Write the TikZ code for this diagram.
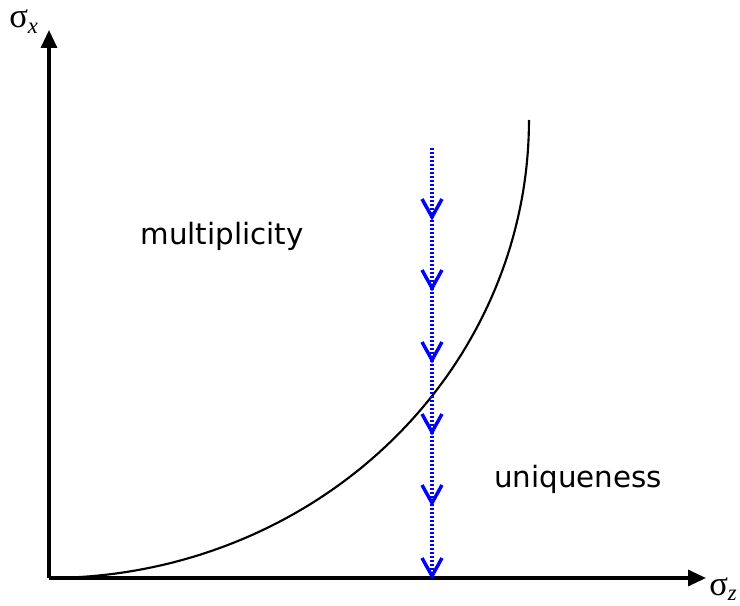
\documentclass[tikz,border=0pt]{standalone}
\usepackage{fontspec}
\setmainfont{DejaVu Sans}
\newfontfamily\timesf{Liberation Serif}
\usetikzlibrary{arrows.meta}
\begin{document}
\begin{tikzpicture}[x=0.75pt,y=-0.75pt,
  axis/.style={line width=2.4pt,-{Triangle[length=13.5pt,width=12pt]}},
  curve/.style={line width=1.6pt},
  flow/.style={blue,line width=2.3pt,dash pattern=on 1.3pt off 1.7pt},
  vhead/.style={blue,line width=2.6pt,line join=miter},
  lbl/.style={inner sep=0pt,font=\fontsize{22}{26}\selectfont},
  axlbl/.style={inner sep=0pt,font=\timesf\fontsize{26}{28}\selectfont}]
\useasboundingbox (0,0) rectangle (740,606);
\coordinate (O) at (49,578);
\coordinate (ytop) at (49,30);
\coordinate (xend) at (706,578);
\draw[axis] (O) -- (ytop);
\draw[axis] (O) -- (xend);
\node[axlbl,anchor=base west] (sx) at (9,28) {σ\raisebox{-0.15em}{\fontsize{17}{18}\selectfont\itshape x}};
\node[axlbl,anchor=base west] (sz) at (709,595) {σ\raisebox{-0.15em}{\fontsize{17}{18}\selectfont\itshape z}};
\draw[curve] plot[domain=0:90,samples=80] ({49+480*sin(\x)},{120+458*cos(\x)});
\coordinate (fs) at (432,148);
\coordinate (fe) at (432,576);
\draw[flow] (fs) -- (fe);
\foreach \t in {217,288,360,432,503,576}{
  \draw[vhead] (422,\t-18) -- (432,\t) -- (442,\t-18);
}
\node[lbl,anchor=base] (mult) at (222,245) {multiplicity};
\node[lbl,anchor=base] (uniq) at (578,487) {uniqueness};
\end{tikzpicture}
\end{document}
